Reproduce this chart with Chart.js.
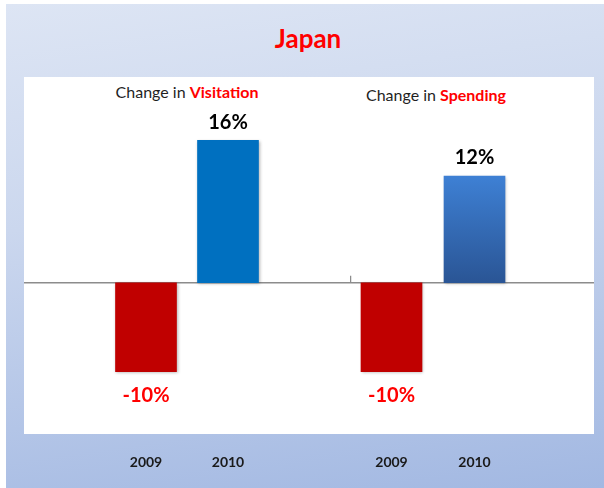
<!DOCTYPE html>
<html lang="en">
<head>
    <meta charset="UTF-8">
    <title>Japan</title>
    <script src="https://cdn.jsdelivr.net/npm/chart.js"></script>
    <style>
        body {
            margin: 0;
            width: 604px;
            height: 488px;
            background: #fff;
            font-family: Lato, Arial, sans-serif;
            position: relative;
            overflow: hidden;
        }

        .frame {
            position: absolute;
            left: 6px;
            top: 4px;
            right: 0;
            bottom: 0;
            background: linear-gradient(172deg, #dde5f4 0%, #cbd7ee 40%, #a2b8e2 100%);
        }

        .panel {
            position: absolute;
            left: 24px;
            top: 77px;
            width: 570px;
            height: 357px;
            background: #fff;
        }

        .title {
            position: absolute;
            left: 208px;
            width: 200px;
            top: 18px;
            line-height: 40px;
            text-align: center;
            color: #ff0000;
            font-weight: bold;
            font-size: 26px;
        }

        .sub {
            position: absolute;
            width: 220px;
            line-height: 20px;
            text-align: center;
            font-size: 16px;
            color: #1f1f1f;
        }
        .sub b { color: #ff0000; }

        canvas { position: absolute; top: 0; }
    </style>
</head>
<body>
    <div class="frame"></div>
    <div class="panel"></div>
    <div class="title">Japan</div>
    <div class="sub" style="left:77px; top:82px;">Change in <b>Visitation</b></div>
    <div class="sub" style="left:326px; top:85px;">Change in <b>Spending</b></div>

    <canvas id="visitChart" width="326" height="488" style="left:24px;"></canvas>
    <canvas id="spendChart" width="244" height="488" style="left:350px;"></canvas>

    <script>
        // data
        const years = ['2009', '2010'];
        const visitationChange = [-10, 16];
        const spendingChange = [-10, 12];
        const yMin = -17;
        const yMax = 22;

        // zero line, bar shadow and % labels
        const barExtras = {
            id: 'barExtras',
            beforeDatasetsDraw(chart, args, opts) {
                const ctx = chart.ctx;
                const y0 = chart.scales.y.getPixelForValue(0);
                ctx.save();
                ctx.strokeStyle = '#8c8c8c';
                ctx.lineWidth = 1.5;
                ctx.beginPath();
                ctx.moveTo(0, y0);
                ctx.lineTo(chart.width, y0);
                if (opts.tick) {
                    ctx.moveTo(0.5, y0);
                    ctx.lineTo(0.5, y0 - 7);
                }
                ctx.stroke();
                ctx.restore();

                ctx.save();
                ctx.shadowColor = 'rgba(0,0,0,0.3)';
                ctx.shadowBlur = 3;
                ctx.shadowOffsetX = 1;
                ctx.shadowOffsetY = 1;
            },
            afterDatasetsDraw(chart) {
                const ctx = chart.ctx;
                ctx.restore();
                const data = chart.data.datasets[0].data;
                ctx.save();
                ctx.font = 'bold 20px Lato';
                ctx.textAlign = 'center';
                ctx.textBaseline = 'middle';
                chart.getDatasetMeta(0).data.forEach((bar, i) => {
                    const v = data[i];
                    if (v < 0) {
                        ctx.fillStyle = '#ff0000';
                        ctx.fillText(v + '%', bar.x, bar.y + 24);
                    } else {
                        ctx.fillStyle = '#000';
                        ctx.fillText(v + '%', bar.x, bar.y - 18);
                    }
                });
                ctx.restore();
            }
        };

        const visitColors = ['#c00000', '#0070c0'];

        function visitColor(context) {
            return visitColors[context.dataIndex];
        }

        function spendColor(context) {
            if (context.raw < 0) return '#c00000';
            const chart = context.chart;
            if (!chart.chartArea) return '#3470c0';
            const y = chart.scales.y;
            const g = chart.ctx.createLinearGradient(0, y.getPixelForValue(context.raw), 0, y.getPixelForValue(0));
            g.addColorStop(0, '#3e80d4');
            g.addColorStop(1, '#2a5595');
            return g;
        }

        function makeChart(id, values, color, padLeft, padRight, tick) {
            return new Chart(document.getElementById(id), {
                type: 'bar',
                data: {
                    labels: years,
                    datasets: [{
                        data: values,
                        backgroundColor: color,
                        barThickness: 61,
                        borderWidth: 0
                    }]
                },
                plugins: [barExtras],
                options: {
                    responsive: false,
                    animation: false,
                    events: [],
                    layout: {
                        padding: { top: 87, bottom: 17, left: padLeft, right: padRight }
                    },
                    plugins: {
                        legend: { display: false },
                        tooltip: { enabled: false },
                        barExtras: { tick: tick }
                    },
                    scales: {
                        x: {
                            grid: { display: false, drawTicks: false },
                            border: { display: false },
                            afterFit(scale) { scale.height = 37; },
                            ticks: {
                                padding: 20,
                                color: '#1a1a1a',
                                font: { family: 'Lato', size: 14, weight: 'bold' }
                            }
                        },
                        y: {
                            display: false,
                            min: yMin,
                            max: yMax
                        }
                    }
                }
            });
        }

        makeChart('visitChart', visitationChange, visitColor, 81, 81, false);
        makeChart('spendChart', spendingChange, spendColor, 0, 78, true);
    </script>
</body>
</html>
